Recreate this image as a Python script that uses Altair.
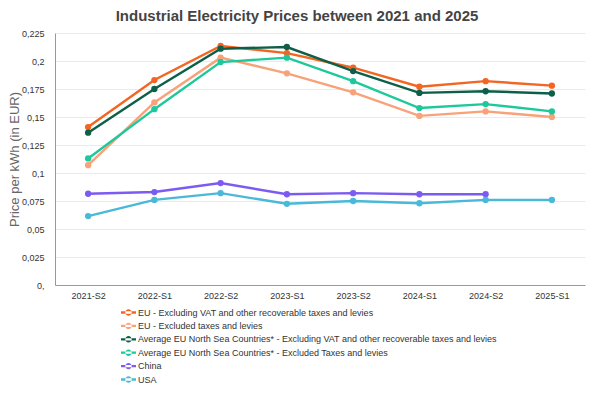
import altair as alt
import pandas as pd

periods = ["2021-S2", "2022-S1", "2022-S2", "2023-S1", "2023-S2", "2024-S1", "2024-S2", "2025-S1"]
series_names = [
    "EU - Excluding VAT and other recoverable taxes and levies",
    "EU - Excluded taxes and levies",
    "Average EU North Sea Countries* - Excluding VAT and other recoverable taxes and levies",
    "Average EU North Sea Countries* - Excluded Taxes and levies",
    "China",
    "USA",
]
eu_excl_vat = [0.141, 0.183, 0.2135, 0.207, 0.194, 0.177, 0.182, 0.178]
eu_excl_taxes = [0.107, 0.163, 0.203, 0.189, 0.172, 0.151, 0.155, 0.150]
ns_excl_vat = [0.136, 0.175, 0.211, 0.2125, 0.191, 0.1715, 0.173, 0.171]
ns_excl_taxes = [0.113, 0.157, 0.199, 0.203, 0.182, 0.158, 0.1615, 0.155]
china = [0.0815, 0.083, 0.091, 0.081, 0.082, 0.081, 0.081, None]
usa = [0.0615, 0.076, 0.082, 0.0725, 0.075, 0.073, 0.076, 0.076]
colors = ["#F26522", "#F8A27A", "#0E5F47", "#1DC99A", "#7B5BF2", "#4AB8D8"]
y_ticks = [0, 0.025, 0.05, 0.075, 0.1, 0.125, 0.15, 0.175, 0.2, 0.225]

rows = []
for name, vals in zip(series_names, [eu_excl_vat, eu_excl_taxes, ns_excl_vat, ns_excl_taxes, china, usa]):
    for p, v in zip(periods, vals):
        if v is not None:
            rows.append({"Period": p, "Series": name, "Price": v})
df = pd.DataFrame(rows)

FONT = "Liberation Sans"

x = alt.X("Period:N", sort=periods, title=None,
          scale=alt.Scale(paddingInner=0, paddingOuter=0, domain=periods),
          axis=alt.Axis(labelAngle=0, labelFontSize=9, labelColor="#333333", domain=True,
                        domainColor="#999999", ticks=False, grid=False, labelPadding=6))
y = alt.Y("Price:Q", title="Price per kWh (in EUR)",
          scale=alt.Scale(domain=[0, 0.225], nice=False),
          axis=alt.Axis(values=y_ticks, labelFontSize=9, labelColor="#333333",
                        labelExpr="datum.value == 0 ? '0,' : replace(format(datum.value, '.3~f'), '.', ',')",
                        ticks=False, domain=True, domainColor="#999999", gridColor="#EBEBEB",
                        titleFontSize=13, titleFontWeight="normal", titleColor="#666666",
                        titleX=-34, titleY=126, titleAlign="center", titleBaseline="bottom",
                        labelPadding=11))
color = alt.Color("Series:N", sort=series_names,
                  scale=alt.Scale(domain=series_names, range=colors),
                  legend=alt.Legend(title=None, orient="none", legendX=66, legendY=272,
                                    direction="vertical", labelFontSize=9, labelColor="#333333",
                                    labelLimit=600, rowPadding=0.4, labelOffset=2,
                                    symbolType="M-1.06,-0.16L1.06,-0.16L1.06,0.16L-1.06,0.16Z M-0.45,0A0.45,0.45 0 1,0 0.45,0A0.45,0.45 0 1,0 -0.45,0Z",
                                    symbolSize=200, symbolStrokeWidth=0, symbolOffset=0))

base = alt.Chart(df).encode(x=x, y=y, color=color)
lines = base.mark_line(strokeWidth=2.4)
points = base.mark_circle(size=40, opacity=1)

chart = alt.layer(lines, points).properties(
    width=530, height=252,
    title=alt.TitleParams("Industrial Electricity Prices between 2021 and 2025",
                          fontSize=15, fontWeight="bold", color="#444444", font=FONT,
                          anchor="middle", dx=-23, offset=5),
    autosize=alt.AutoSizeParams(type="none"),
    padding={"left": 47, "top": 25, "right": 2, "bottom": 100},
).configure(font=FONT).configure_view(stroke=None)

chart.save("out.html", embed_options={"renderer": "svg", "actions": False})
